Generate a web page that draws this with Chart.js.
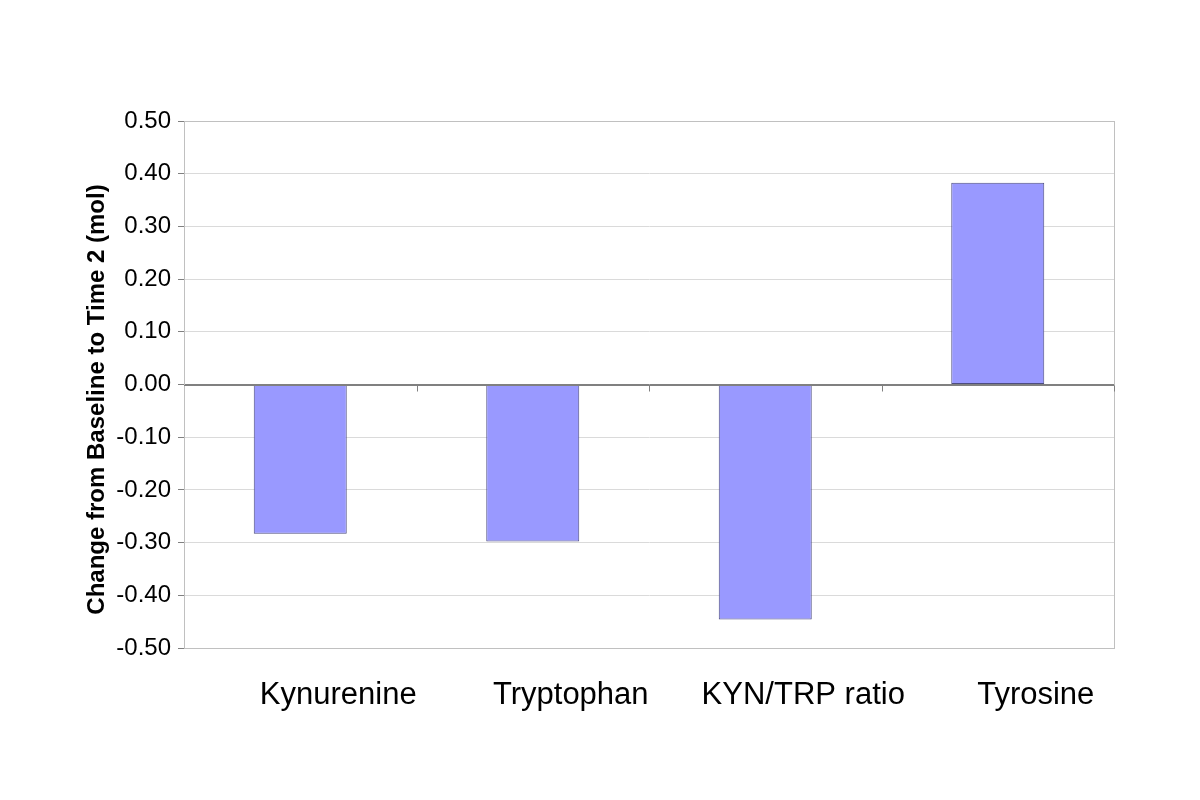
<!DOCTYPE html>
<html>
<head>
<meta charset="utf-8">
<script src="https://cdn.jsdelivr.net/npm/chart.js@4/dist/chart.umd.min.js"></script>
<style>
  html, body { margin: 0; padding: 0; background: #fff; }
  #wrap { width: 1200px; height: 800px; }
</style>
</head>
<body>
<div id="wrap"><canvas id="chart" width="1200" height="800"></canvas></div>
<script>
    /* ── Chart data ── */
    var categories = ['Kynurenine', 'Tryptophan', 'KYN/TRP ratio', 'Tyrosine'];
    var changeValues = [-0.283, -0.298, -0.446, 0.383];
    var yTicks = [-0.5, -0.4, -0.3, -0.2, -0.1, 0, 0.1, 0.2, 0.3, 0.4, 0.5];

    var yTitle = 'Change from Baseline to Time 2 (mol)';
    var fontFamily = '"Liberation Sans", Arial, sans-serif';

    // light grey frame around the plot area
    var plotFrame = {
        id: 'plotFrame',
        beforeDatasetsDraw: function (chart) {
            var a = chart.chartArea, ctx = chart.ctx;
            ctx.save();
            ctx.strokeStyle = '#c0c0c0';
            ctx.lineWidth = 1;
            ctx.strokeRect(a.left + 0.5, a.top + 0.5, a.right - a.left, a.bottom - a.top);
            ctx.restore();
        }
    };

    // small category separators hanging below the zero line
    var zeroTicks = {
        id: 'zeroTicks',
        afterDatasetsDraw: function (chart) {
            var xs = chart.scales.x, ys = chart.scales.y, ctx = chart.ctx;
            var y0 = Math.round(ys.getPixelForValue(0)) + 0.5;
            ctx.save();
            ctx.strokeStyle = '#808080';
            ctx.lineWidth = 1;
            // redraw the zero line on top of the bars
            ctx.beginPath();
            ctx.moveTo(chart.chartArea.left, y0);
            ctx.lineTo(chart.chartArea.right, y0);
            ctx.stroke();
            for (var i = 1; i <= categories.length; i++) {
                var x;
                if (i < categories.length) {
                    x = (xs.getPixelForValue(i - 1) + xs.getPixelForValue(i)) / 2;
                } else {
                    x = chart.chartArea.right;
                }
                x = Math.round(x) + 0.5;
                ctx.beginPath();
                ctx.moveTo(x, y0);
                ctx.lineTo(x, y0 + 6);
                ctx.stroke();
            }
            ctx.restore();
        }
    };

    // rotated y title, sitting a little below the plot centre like the original
    var yTitleDraw = {
        id: 'yTitleDraw',
        afterDraw: function (chart) {
            var a = chart.chartArea, ctx = chart.ctx;
            ctx.save();
            ctx.translate(97, (a.top + a.bottom) / 2 + 15);
            ctx.rotate(-Math.PI / 2);
            ctx.fillStyle = '#000';
            ctx.font = 'bold 24px ' + fontFamily;
            ctx.textAlign = 'center';
            ctx.textBaseline = 'middle';
            ctx.fillText(yTitle, 0, 0);
            ctx.restore();
        }
    };

    var ctx = document.getElementById('chart').getContext('2d');
    new Chart(ctx, {
        type: 'bar',
        data: {
            labels: categories,
            datasets: [{
                data: changeValues,
                backgroundColor: '#9999ff',
                borderColor: '#4d4d80',
                borderWidth: 1,
                borderSkipped: false,
                categoryPercentage: 1.0,
                barPercentage: 0.4
            }]
        },
        options: {
            responsive: false,
            animation: false,
            layout: { padding: { left: 78, right: 86, top: 121, bottom: 0 } },
            plugins: {
                legend: { display: false },
                tooltip: { enabled: false }
            },
            scales: {
                x: {
                    grid: { display: false, drawTicks: false },
                    border: { display: false },
                    ticks: {
                        color: '#000',
                        font: { family: fontFamily, size: 31 },
                        padding: 29,
                        labelOffset: 38,
                        maxRotation: 0,
                        autoSkip: false
                    },
                    afterFit: function (scale) { scale.height = 152; }
                },
                y: {
                    min: -0.5,
                    max: 0.5,
                    afterBuildTicks: function (scale) {
                        scale.ticks = yTicks.map(function (v) { return { value: v }; });
                    },
                    grid: {
                        color: function (c) {
                            return c.tick && Math.abs(c.tick.value) < 1e-9 ? '#808080' : '#dadada';
                        },
                        tickColor: '#808080',
                        tickLength: 6,
                        drawTicks: true
                    },
                    border: { display: true, color: '#808080', width: 1 },
                    ticks: {
                        color: '#000',
                        font: { family: fontFamily, size: 24 },
                        padding: 7,
                        callback: function (v) { return Number(v).toFixed(2); }
                    },
                    afterFit: function (scale) { scale.width = 106; }
                }
            }
        },
        plugins: [plotFrame, zeroTicks, yTitleDraw]
    });
</script>
</body>
</html>
